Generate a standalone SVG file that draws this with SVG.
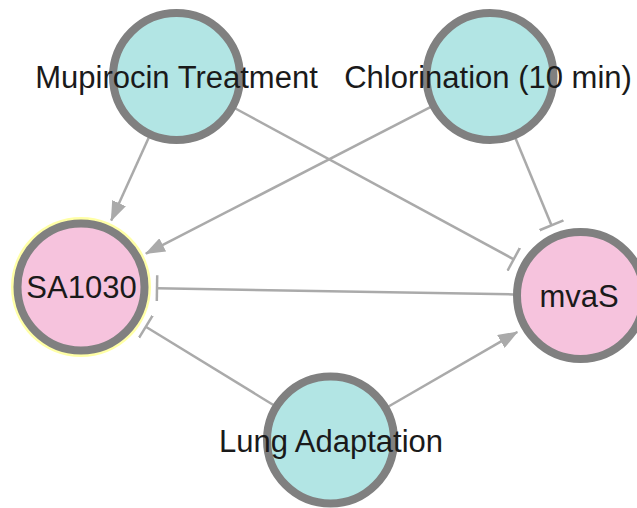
<svg xmlns="http://www.w3.org/2000/svg" width="637" height="508" viewBox="0 0 637 508">
  <style>
    .edge { stroke: #aaaaaa; stroke-width: 2.5; fill: none; }
    .node { stroke: #808080; stroke-width: 8; }
    .src { fill: #b2e5e4; }
    .tgt { fill: #f6c3dd; }
    .label { font-family: "Liberation Sans", Arial, sans-serif; font-size: 31px; fill: #1a1a1a; text-anchor: middle; }
  </style>
  <defs>
    <marker id="arrow" markerUnits="userSpaceOnUse" viewBox="0 0 20 15" refX="19" refY="7.5" markerWidth="20" markerHeight="15" orient="auto">
      <path d="M0,0 L20,7.5 L0,15 z" fill="#aaaaaa"/>
    </marker>
    <marker id="tee" markerUnits="userSpaceOnUse" viewBox="0 0 4 26" refX="2" refY="13" markerWidth="4" markerHeight="26" orient="auto">
      <path d="M2,0 V26" stroke="#aaaaaa" stroke-width="2.5"/>
    </marker>
  </defs>
  <rect width="637" height="508" fill="#ffffff"/>
  <g id="edges">
    <line class="edge" x1="148.8" y1="137.5" x2="111.2" y2="220.5" marker-end="url(#arrow)"/>
    <line class="edge" x1="430.4" y1="107.2" x2="145.9" y2="253.6" marker-end="url(#arrow)"/>
    <line class="edge" x1="235.4" y1="108.5" x2="513.7" y2="259.3" marker-end="url(#tee)"/>
    <line class="edge" x1="515.6" y1="138.4" x2="551.5" y2="225.3" marker-end="url(#tee)"/>
    <line class="edge" x1="513.5" y1="294.4" x2="157" y2="288.3" marker-end="url(#tee)"/>
    <line class="edge" x1="273.4" y1="405" x2="145.8" y2="326.7" marker-end="url(#tee)"/>
    <line class="edge" x1="388.5" y1="406.5" x2="517.3" y2="332" marker-end="url(#arrow)"/>
  </g>
  <g id="node-mupirocin">
    <circle class="node src" cx="176.5" cy="76.5" r="63.5"/>
    <text class="label" x="176.5" y="88">Mupirocin Treatment</text>
  </g>
  <g id="node-chlorination">
    <circle class="node src" cx="490" cy="76.5" r="63.5"/>
    <text class="label" x="488" y="88">Chlorination (10 min)</text>
  </g>
  <g id="node-sa1030">
    <circle cx="81" cy="287" r="70" fill="#ffffa6"/>
    <circle class="node tgt" cx="81" cy="287" r="63.5"/>
    <text class="label" x="81.5" y="298">SA1030</text>
  </g>
  <g id="node-mvas">
    <circle class="node tgt" cx="580.5" cy="295.5" r="63.5"/>
    <text class="label" x="579" y="306.5">mvaS</text>
  </g>
  <g id="node-lung">
    <circle class="node src" cx="330.5" cy="440" r="63.5"/>
    <text class="label" x="331" y="452">Lung Adaptation</text>
  </g>
</svg>
